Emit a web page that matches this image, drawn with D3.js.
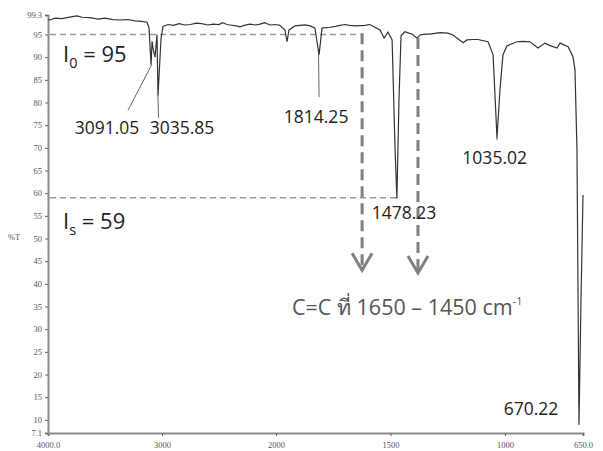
<!DOCTYPE html>
<html>
<head>
<meta charset="utf-8">
<script src="https://cdn.jsdelivr.net/npm/d3@7"></script>
<style>
  body { margin: 0; background: #fff; }
  svg text { font-family: "Open Sans", "Noto Sans", sans-serif; }
</style>
</head>
<body>
<div class="chart"></div>
<script>
var width = 603;
var height = 451;

// spectrum (wavenumber cm-1, %T)
var wavenumbers = [4000,3982,3940,3877,3800,3746,3700,3632,3560,3500,3430,3368,3300,3237,3180,3132,3114,3096,3087,3079,3061,3044,3035,3009,2991,2947,2900,2850,2800,2750,2700,2650,2600,2550,2500,2470,2430,2404,2350,2316,2280,2228,2180,2140,2100,2053,2010,1983,1961,1952,1943,1917,1873,1850,1830,1812,1799,1764,1740,1721,1699,1680,1655,1611,1590,1568,1546,1528,1511,1493,1480,1472,1463,1454,1437,1420,1406,1384,1371,1350,1328,1284,1250,1227,1183,1166,1140,1118,1074,1052,1035,1022,1009,991,946,920,888,852,821,800,767,753,717,695,686,677,668,659,650];
var transmittance = [98.3,98.2,98.6,98.5,98.9,99.1,98.8,98.7,98.4,98.6,98.3,98.2,98.3,98.0,97.9,97.7,96.5,88.3,93.5,92.0,90.0,95.0,81.5,94.0,96.8,97.2,97.0,97.4,97.1,97.2,97.5,97.4,97.1,97.3,97.2,97.6,97.2,97.1,96.9,96.7,97.0,97.3,97.1,97.3,97.6,97.1,97.2,97.0,96.0,93.4,96.0,96.9,97.1,96.9,96.4,90.5,96.4,96.6,96.8,97.0,97.2,97.0,96.9,97.0,97.2,96.6,96.0,94.2,95.5,93.8,69.5,58.9,80.6,94.7,95.6,95.3,95.1,94.2,94.9,95.1,95.1,95.4,95.3,94.9,93.2,93.8,93.9,93.9,93.4,90.5,72.2,82.8,90.5,92.5,93.4,93.5,93.4,92.0,93.1,92.6,92.0,93.1,92.3,90.1,87.2,69.5,8.9,36.4,59.6];

var xTicks = [4000, 3000, 2000, 1500, 1000, 650];
var xTickLabels = ["4000.0", "3000", "2000", "1500", "1000", "650.0"];
var yTicks = [99.3, 95, 90, 85, 80, 75, 70, 65, 60, 55, 50, 45, 40, 35, 30, 25, 20, 15, 10, 7.1];

// peak labels
var peakWn = [3091.05, 3035.85, 1814.25, 1478.23, 1035.02, 670.22];
var peakT = [88.3, 81.5, 90.5, 58.9, 72.2, 8.9];
var peakLabels = ["3091.05", "3035.85", "1814.25", "1478.23", "1035.02", "670.22"];
var labelWn = [3482, 2825, 1825, 1441, 1045, 883];
var labelT = [73.1, 73.1, 75.5, 54.3, 66.4, 11.0];
var leaderEndWn = [3298, 3030, 1812, 1472, 1035, 668];
var leaderEndT = [78.3, 76.6, 81.2, 58.9, 71.7, 8.9];

var baseLines = [95, 59];          // I0 and Is
var baseLineEndWn = [1630, 1472];
var arrowWn = [1624, 1380];
var arrowTopT = [95.3, 94.2];
var arrowTipT = [43.0, 42.4];

var x = d3.scaleLinear().domain([4000, 2000, 1000, 650]).range([48, 276, 505, 583]);
var y = d3.scaleLinear().domain([7.1, 99.3]).range([433, 15]);

var svg = d3.select('.chart').append('svg').attr('width', width).attr('height', height);

// axes
var xAxis = d3.axisBottom(x).tickValues(xTicks).tickSize(3)
  .tickFormat(function(d, i){ return xTickLabels[i]; });
var yAxis = d3.axisLeft(y).tickValues(yTicks).tickSize(3)
  .tickFormat(function(d){ return d; });

var gx = svg.append('g').attr('transform', 'translate(0,' + y(7.1) + ')').call(xAxis);
var gy = svg.append('g').attr('transform', 'translate(' + x(4000) + ',0)').call(yAxis);
[gx, gy].forEach(function(g){
  g.select('.domain').attr('stroke', '#8a8a8a').attr('stroke-width', 2);
  g.selectAll('.tick line').attr('stroke', '#666');
  g.selectAll('.tick text').attr('fill', '#555')
    .style('font-family', '"Liberation Serif", serif').style('font-size', '8.5px');
});
gx.selectAll('.tick text').attr('dy', '1.0em');

svg.append('text').attr('x', 8).attr('y', 240)
  .style('font-family', '"Liberation Serif", serif').style('font-size', '8.5px')
  .attr('fill', '#555').text('%T');

// dashed reference lines
svg.selectAll('line.base').data(baseLines).enter().append('line')
  .attr('class', 'base')
  .attr('x1', x(4000) + 2).attr('x2', function(d, i){ return x(baseLineEndWn[i]); })
  .attr('y1', function(d){ return y(d); }).attr('y2', function(d){ return y(d); })
  .attr('stroke', '#9a9a9a').attr('stroke-width', 1.4).attr('stroke-dasharray', '6,4');

// spectrum
var line = d3.line().x(function(d){ return x(d[0]); }).y(function(d){ return y(d[1]); });
svg.append('path')
  .attr('d', line(d3.zip(wavenumbers, transmittance)))
  .attr('fill', 'none').attr('stroke', '#333').attr('stroke-width', 1.2);

// dashed arrows
arrowWn.forEach(function(w, i){
  var ax = x(w);
  svg.append('line')
    .attr('x1', ax).attr('x2', ax)
    .attr('y1', y(arrowTopT[i])).attr('y2', y(arrowTipT[i]) - 2)
    .attr('stroke', '#808080').attr('stroke-width', 3).attr('stroke-dasharray', '11,6');
  var tip = y(arrowTipT[i]);
  var path = d3.path();
  path.moveTo(ax - 10, tip - 17);
  path.lineTo(ax, tip);
  path.lineTo(ax + 10, tip - 17);
  svg.append('path').attr('d', path.toString())
    .attr('fill', 'none').attr('stroke', '#808080').attr('stroke-width', 3);
});

// leader lines and peak labels
peakWn.forEach(function(w, i){
  svg.append('line')
    .attr('x1', x(w)).attr('y1', y(peakT[i]))
    .attr('x2', x(leaderEndWn[i])).attr('y2', y(leaderEndT[i]))
    .attr('stroke', '#555').attr('stroke-width', 0.9);
  svg.append('text')
    .attr('x', x(labelWn[i])).attr('y', y(labelT[i]))
    .attr('text-anchor', 'middle')
    .style('font-size', '17.5px').attr('fill', '#222')
    .text(peakLabels[i]);
});

// I0 / Is labels
var i0 = svg.append('text').attr('x', 63).attr('y', 62).style('font-size', '22px').attr('fill', '#222');
i0.append('tspan').text('I');
i0.append('tspan').attr('dy', 6).style('font-size', '14.5px').text('0');
i0.append('tspan').attr('dy', -6).text(' = 95');

var is = svg.append('text').attr('x', 63).attr('y', 229).style('font-size', '22px').attr('fill', '#222');
is.append('tspan').text('I');
is.append('tspan').attr('dy', 6).style('font-size', '14.5px').text('s');
is.append('tspan').attr('dy', -6).text(' = 59');

// C=C annotation
var note = svg.append('text').attr('x', 292).attr('y', 315).style('font-size', '21.5px').attr('fill', '#555');
note.append('tspan').text('C=C ที่ 1650 – 1450 cm');
note.append('tspan').attr('dy', -10).style('font-size', '11px').text('-1');
</script>
</body>
</html>
